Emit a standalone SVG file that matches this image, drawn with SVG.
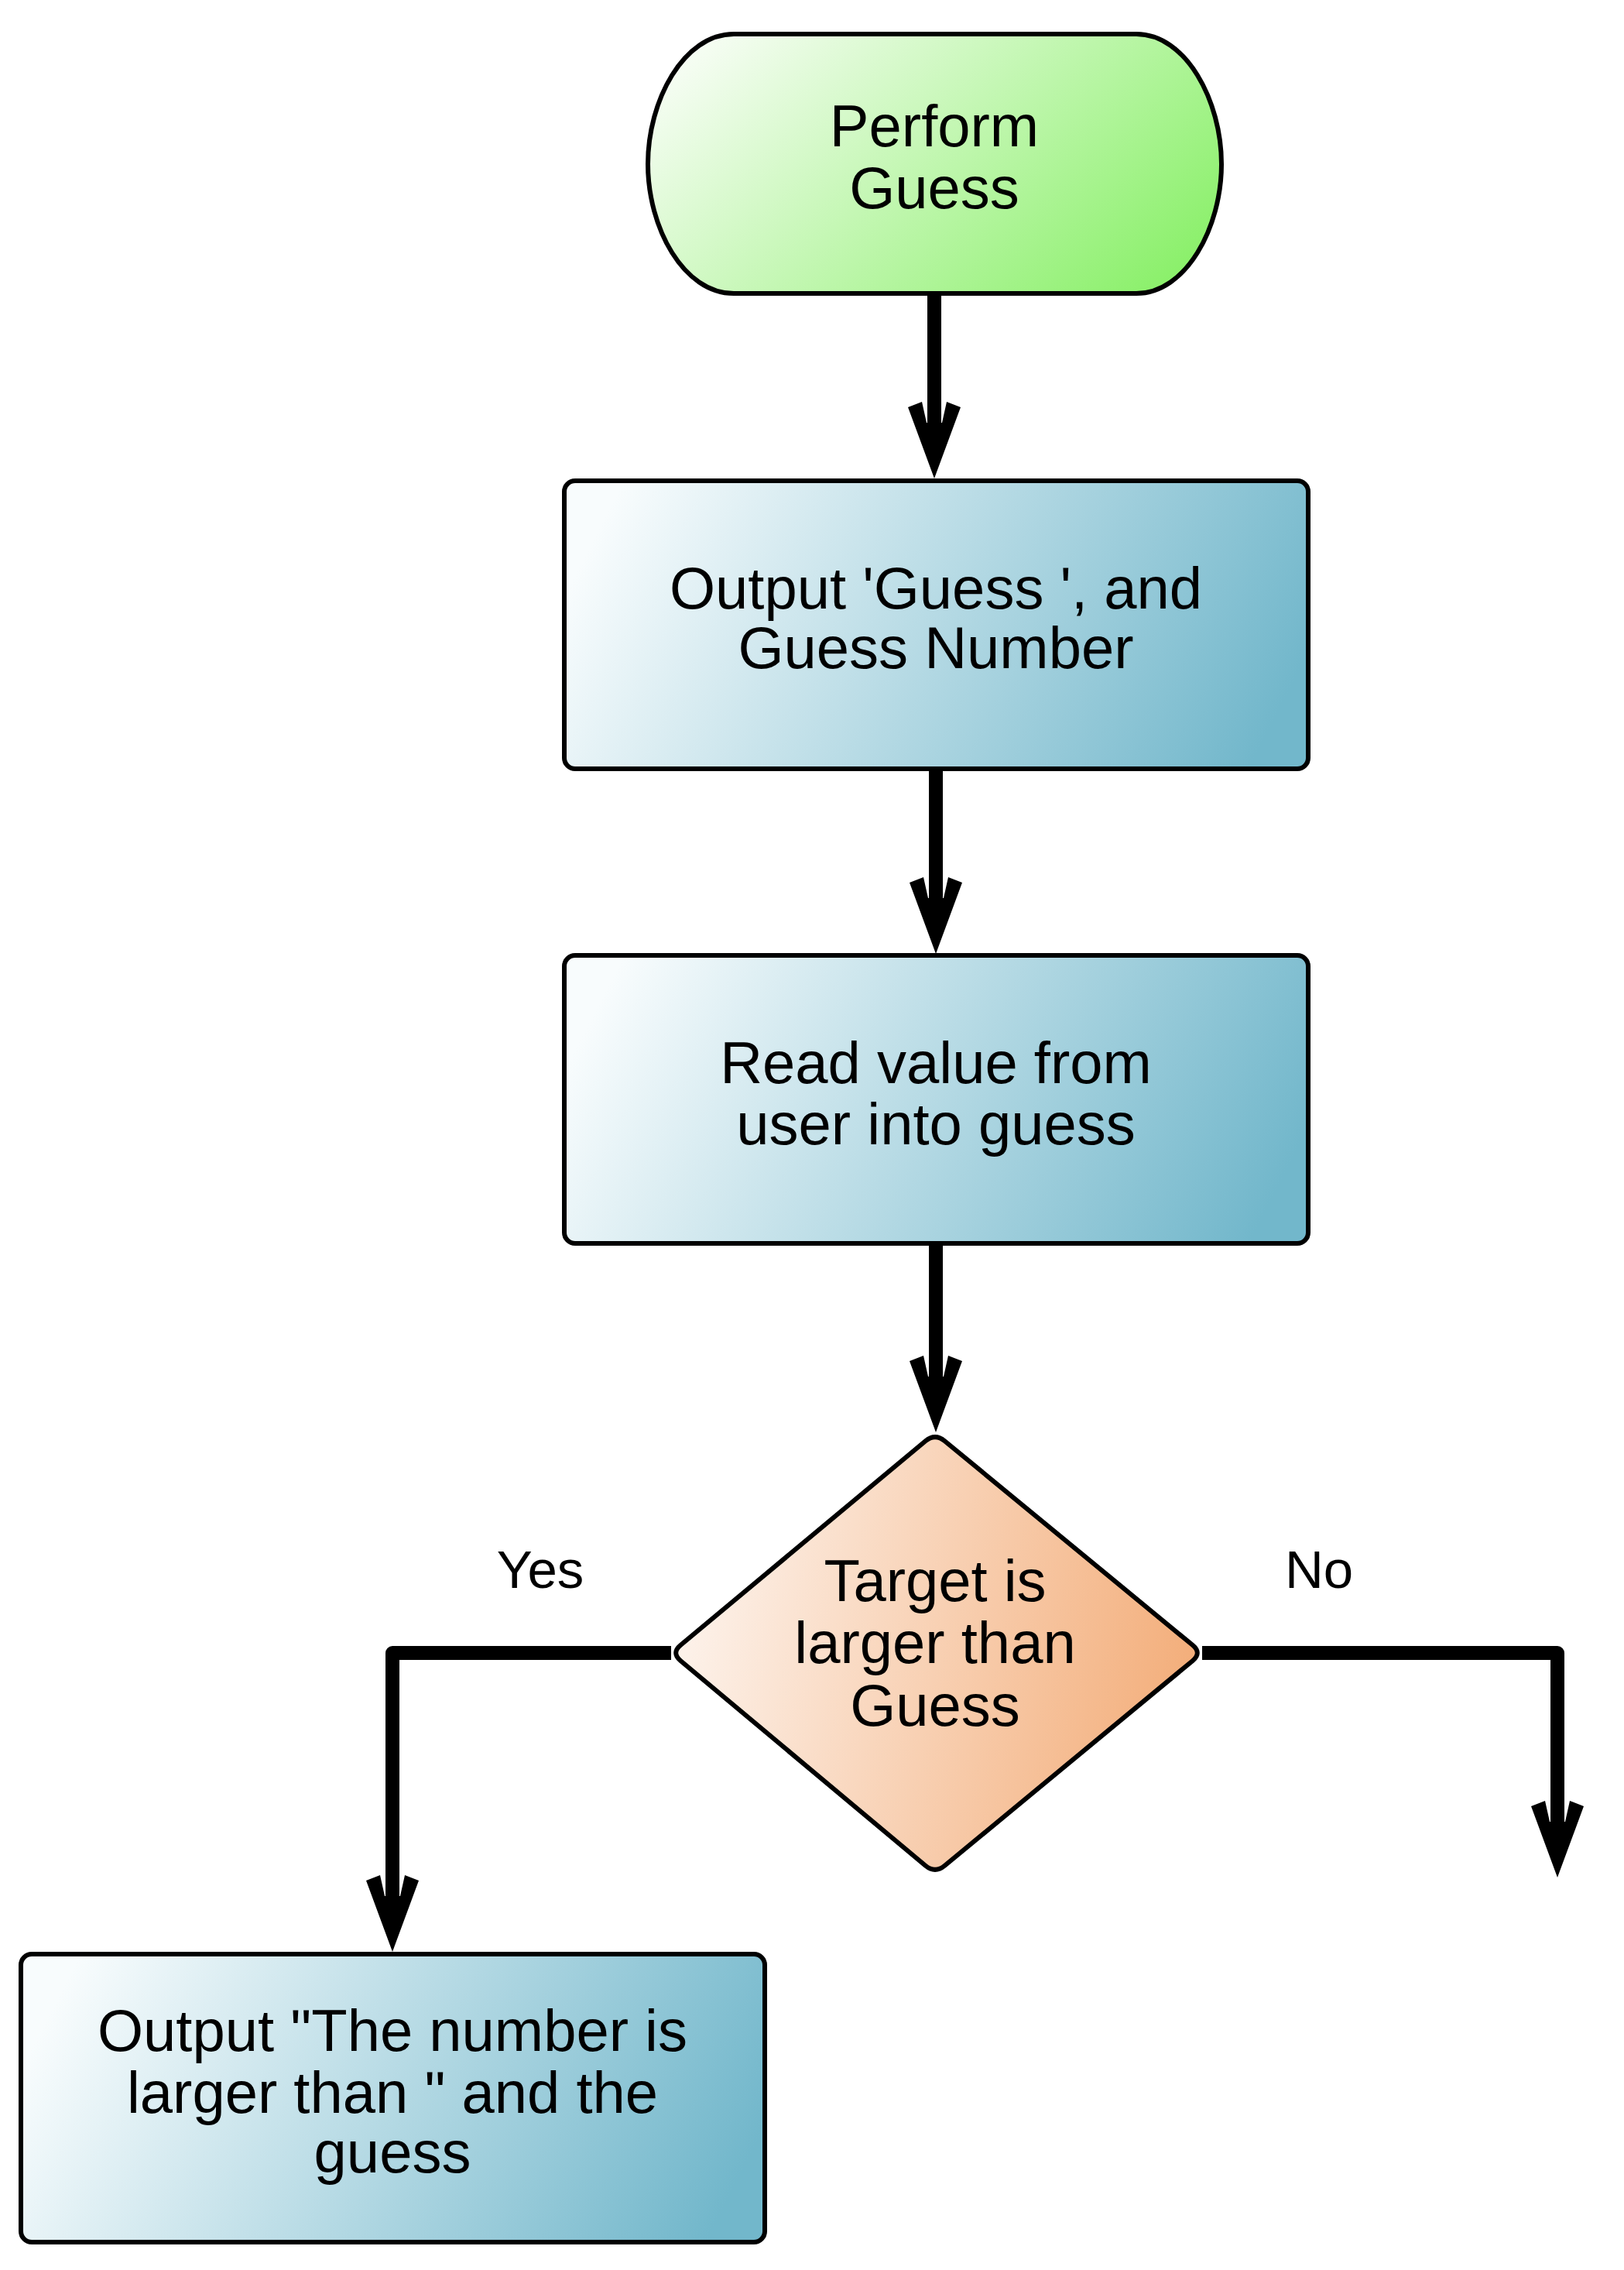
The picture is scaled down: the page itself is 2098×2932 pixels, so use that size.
<svg xmlns="http://www.w3.org/2000/svg" width="2098" height="2932" viewBox="0 0 2098 2932">
  <style>
    .node { stroke: #000; stroke-width: 6; stroke-linejoin: round; }
    .label { font-family: "Liberation Sans", Arial, sans-serif; font-size: 76px; fill: #000; text-anchor: middle; }
    .edge-label { font-family: "Liberation Sans", Arial, sans-serif; font-size: 69px; fill: #000; text-anchor: middle; }
    .conn { fill: none; stroke: #000; stroke-width: 18; stroke-linejoin: round; stroke-linecap: butt; marker-end: url(#arrow); }
  </style>
  <defs>
    <linearGradient id="gGreen" x1="0" y1="0.25" x2="1" y2="0.75">
      <stop offset="0" stop-color="#f5fdf2"/>
      <stop offset="1" stop-color="#8cf06c"/>
    </linearGradient>
    <linearGradient id="gBlue" x1="0" y1="0.4" x2="1" y2="0.6">
      <stop offset="0" stop-color="#f8fcfd"/>
      <stop offset="1" stop-color="#72b7cb"/>
    </linearGradient>
    <linearGradient id="gOrange" x1="0" y1="0.42" x2="1" y2="0.58">
      <stop offset="0" stop-color="#fdf3ec"/>
      <stop offset="1" stop-color="#f3ad79"/>
    </linearGradient>
    <marker id="arrow" markerUnits="userSpaceOnUse" markerWidth="200" markerHeight="200" refX="0" refY="0" orient="auto" overflow="visible" viewBox="-100 -100 200 200">
      <path d="M70,0 L-22,-34 L-29,-16 L-2,-10 L-2,10 L-29,16 L-22,34 Z" fill="#000"/>
    </marker>
  </defs>

  <g id="connectors">
    <path id="c1" class="conn" d="M1207,379 V548"/>
    <path id="c2" class="conn" d="M1209,993 V1162"/>
    <path id="c3" class="conn" d="M1209,1606 V1780"/>
    <path id="c-yes" class="conn" d="M867,2135 H507 V2451"/>
    <path id="c-no" class="conn" d="M1553,2135 H2012 V2355"/>
  </g>

  <g id="node-start">
    <path class="node" fill="url(#gGreen)" d="M948,44 H1468 C1532,44 1578,130 1578,212 C1578,294 1532,379 1468,379 H948 C883,379 837,294 837,212 C837,130 883,44 948,44 Z"/>
    <text class="label" x="1207" y="189">Perform</text>
    <text class="label" x="1207" y="269">Guess</text>
  </g>

  <g id="node-output-guess">
    <rect class="node" fill="url(#gBlue)" x="729" y="621" width="961" height="372" rx="14" ry="14"/>
    <text class="label" x="1209" y="786">Output 'Guess ', and</text>
    <text class="label" x="1209" y="863">Guess Number</text>
  </g>

  <g id="node-read">
    <rect class="node" fill="url(#gBlue)" x="729" y="1234" width="961" height="372" rx="14" ry="14"/>
    <text class="label" x="1209" y="1399">Read value from</text>
    <text class="label" x="1209" y="1478">user into guess</text>
  </g>

  <g id="node-decision">
    <path class="node" fill="url(#gOrange)" d="M1195.6,1861.2 Q1208,1851 1220.4,1861.2 L1540.6,2124.8 Q1553,2135 1540.6,2145.2 L1220.4,2409.8 Q1208,2420 1195.6,2409.8 L879.4,2145.2 Q867,2135 879.4,2124.8 Z"/>
    <text class="label" x="1208" y="2068">Target is</text>
    <text class="label" x="1208" y="2148">larger than</text>
    <text class="label" x="1208" y="2229">Guess</text>
  </g>

  <g id="node-output-larger">
    <rect class="node" fill="url(#gBlue)" x="27" y="2524" width="961" height="372" rx="14" ry="14"/>
    <text class="label" x="507" y="2649">Output "The number is</text>
    <text class="label" x="507" y="2729">larger than " and the</text>
    <text class="label" x="507" y="2806">guess</text>
  </g>

  <g id="edge-labels">
    <text class="edge-label" x="698" y="2051">Yes</text>
    <text class="edge-label" x="1704" y="2051">No</text>
  </g>
</svg>
